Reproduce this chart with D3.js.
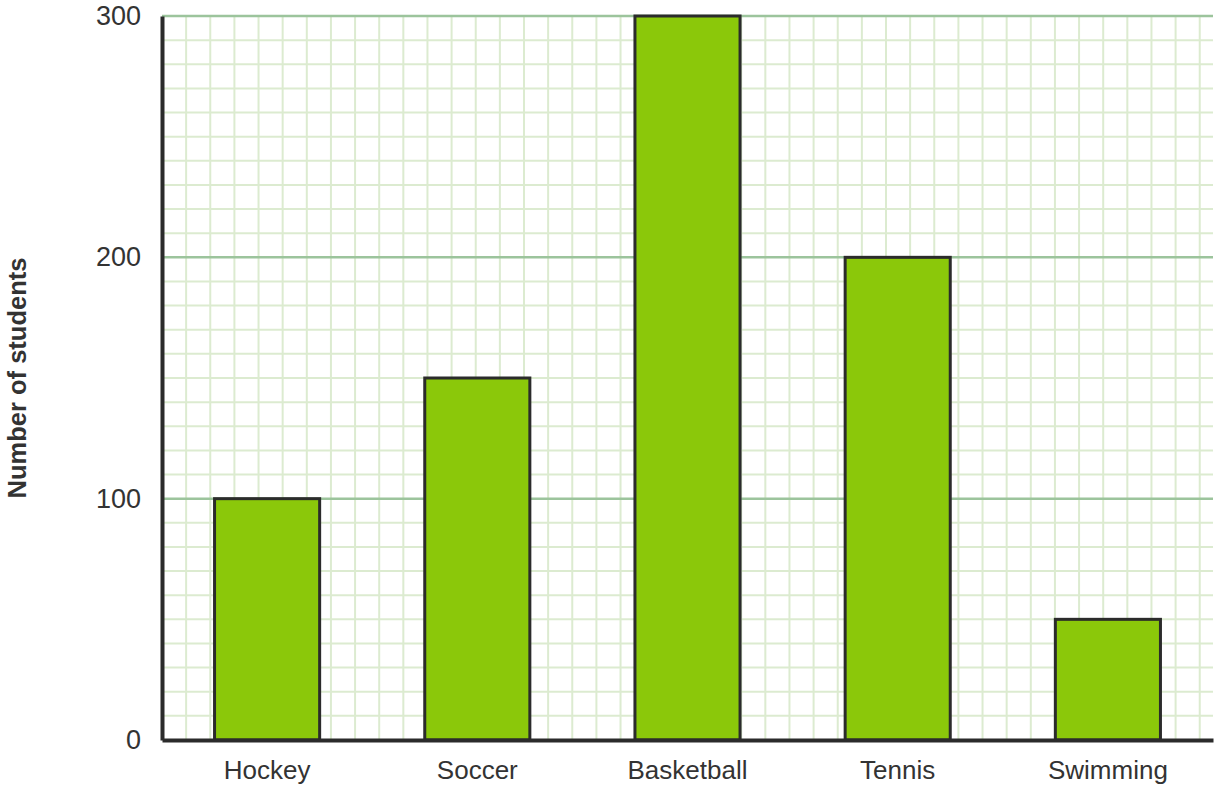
<!DOCTYPE html>
<html>
<head>
<meta charset="utf-8">
<script src="https://cdn.jsdelivr.net/npm/d3@7"></script>
<style>
  body { margin: 0; background: #fff; }
  text { font-family: "Liberation Sans", Arial, sans-serif; fill: #333; }
</style>
</head>
<body>
<div id="app"></div>
<script>
const sports = ['Hockey', 'Soccer', 'Basketball', 'Tennis', 'Swimming'];
const students = [100, 150, 300, 200, 50];
const yTicks = [0, 100, 200, 300];

const render = () => {
  const width = 1220;
  const height = 791;
  const margin = { top: 16, right: 7, bottom: 51, left: 162 };

  const x = d3.scaleBand()
    .domain(sports)
    .range([margin.left, width - margin.right])
    .paddingInner(0.5)
    .paddingOuter(0.25);

  const y = d3.scaleLinear()
    .domain([0, 300])
    .range([height - margin.bottom, margin.top]);

  const svg = d3.select('#app')
    .append('svg')
    .attr('width', width)
    .attr('height', height);

  // minor grid, square cells of 10 units
  const minor = d3.range(0, 301, 10).filter(v => v % 100 !== 0);
  const step = y(0) - y(10);
  const cols = d3.range(margin.left + step, width - margin.right, step);

  svg.append('g')
    .selectAll('line')
    .data(cols)
    .enter()
      .append('line')
      .attr('x1', d => d).attr('x2', d => d)
      .attr('y1', y(300)).attr('y2', y(0))
      .attr('stroke', '#dcebd0')
      .attr('stroke-width', 2);

  svg.append('g')
    .selectAll('line')
    .data(minor)
    .enter()
      .append('line')
      .attr('x1', margin.left).attr('x2', width - margin.right)
      .attr('y1', d => y(d)).attr('y2', d => y(d))
      .attr('stroke', '#dcebd0')
      .attr('stroke-width', 2);

  // major grid
  svg.append('g')
    .selectAll('line')
    .data(yTicks.slice(1))
    .enter()
      .append('line')
      .attr('x1', margin.left).attr('x2', width - margin.right)
      .attr('y1', d => y(d)).attr('y2', d => y(d))
      .attr('stroke', '#9cc49c')
      .attr('stroke-width', 2.5);

  // bars
  svg.append('g')
    .selectAll('rect')
    .data(sports)
    .enter()
      .append('rect')
      .attr('x', d => x(d))
      .attr('y', (d, i) => y(students[i]))
      .attr('width', x.bandwidth())
      .attr('height', (d, i) => y(0) - y(students[i]))
      .attr('fill', '#8bc80a')
      .attr('stroke', '#2b2b2b')
      .attr('stroke-width', 3);

  // axes
  const yAxis = d3.axisLeft(y).tickValues(yTicks).tickSize(0).tickPadding(21);
  svg.append('g')
    .attr('transform', `translate(${margin.left}, 0)`)
    .call(yAxis)
    .call(g => g.select('.domain').attr('stroke', '#2b2b2b').attr('stroke-width', 4))
    .call(g => g.selectAll('text').attr('font-size', 27).attr('fill', '#333').attr('font-family', null));

  const xAxis = d3.axisBottom(x).tickSize(0).tickPadding(21);
  svg.append('g')
    .attr('transform', `translate(0, ${y(0)})`)
    .call(xAxis)
    .call(g => g.select('.domain').attr('stroke', '#2b2b2b').attr('stroke-width', 4))
    .call(g => g.selectAll('text').attr('font-size', 26).attr('fill', '#333').attr('font-family', null));

  svg.append('text')
    .attr('transform', `translate(26, ${(y(0) + y(300)) / 2}) rotate(-90)`)
    .attr('text-anchor', 'middle')
    .attr('font-size', 25.5)
    .attr('font-weight', 'bold')
    .text('Number of students');
};

document.addEventListener('DOMContentLoaded', render);
</script>
</body>
</html>
